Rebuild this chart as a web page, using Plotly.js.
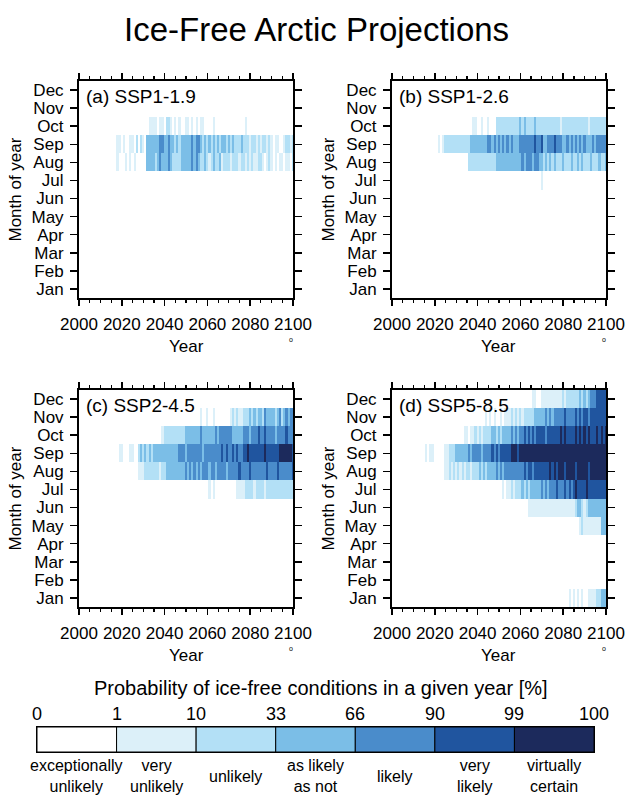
<!DOCTYPE html>
<html><head><meta charset="utf-8">
<script src="https://cdn.plot.ly/plotly-3.0.1.min.js"></script>
<style>html,body{margin:0;padding:0;background:#fff}</style>
</head><body><div id="chart" style="width:631px;height:800px"></div>
<script>
// Years 2015..2100 (one column each); months Jan..Dec
const firstYear = 2015, lastYear = 2100;
const monthLabels = ['Jan','Feb','Mar','Apr','May','Jun','Jul','Aug','Sep','Oct','Nov','Dec'];
const monthNums = [1,2,3,4,5,6,7,8,9,10,11,12];
const xTickVals = [2000,2020,2040,2060,2080,2100];
const xTickText = ['2000','2020','2040','2060','2080','2100'];
// Likelihood category per year (0..6): one string per month (Jan..Dec), one digit per year 2015..2100
// 0 exceptionally unlikely, 1 very unlikely, 2 unlikely, 3 as likely as not, 4 likely, 5 very likely, 6 virtually certain
const ssp119 = ['','','','','','','',
 '0001000101 0100000333 3234333432 2223333343 4322321232 2312221222 1221212112 2101210101 101102',
 '0001101001 1020210333 3334433433 2323333343 4432323232 3233232322 2322212212 1221210110 012212',
 '0000000000 0000000011 1101102210 1010011010 1011000010 0000000000 0001000000 0000000000 000000',
 '',''];
const ssp126 = ['','','','','','',
 '0000000000 0000000000 0000000000 0000000000 0000000000 0000010000 0000000000 0000000000 000000',
 '0000000000 0000000000 0222222222 2222333333 3333334344 4344332323 2322232223 2232322232 223223',
 '0000000101 2222222222 2233333333 4434343434 3433344444 4454453344 4544433434 3434343334 344444',
 '0000000000 0000000000 0001100100 1000222222 2222232322 2232222222 2222122222 2222222122 222222',
 '',''];
const ssp245 = ['','','','','','',
 '0000000000 0000000000 0000000000 0000000000 0000001010 0000000001 1112222122 2212222222 222222',
 '0000000000 0001112222 2221223333 3333343434 3434443443 4444344444 5444454444 4445444454 444445',
 '0000110001 1002323232 3333333333 3344434444 4443444444 4454544545 4455655555 5565555556 666665',
 '0000000000 0000000000 0000122222 2222233333 3343333334 3444444333 3344434445 4454444344 445444',
 '0000000000 0000000000 0000000000 0000000000 0010010010 0000001212 1122232323 3243333234 234344',
 ''];
const ssp585 = [
 '0000000000 0000000000 0000000000 0000000000 0000000000 0000000000 0000000010 1010100111 122333',
 '','','',
 '0000000000 0000000000 0000000000 0000000000 0000000000 0000000000 0000000000 0001211111 111333',
 '0000000000 0000000000 0000000000 0000000000 0000000001 1111111111 1111111111 1233212333 333333',
 '0000000000 0000000000 0000000000 0000000101 1212223232 3333343434 4454445454 5655556555 555555',
 '0000000000 1121212121 2212223232 3333434344 4444444545 5455555556 5656665666 6566666566 666666',
 '0101100000 1122233333 3434444344 4454545555 5666566666 6666666666 6666666666 6666666666 666666',
 '0000000000 0000000001 1011212122 2233232333 3434344545 4545555455 5555656555 5656565655 565656',
 '0000000000 0000000000 0000000001 0101001011 1212121222 2233333434 3444445444 4545455455 555555',
 '0000000000 0000000000 0000000000 0000000000 0000000000 0110011111 1111121222 2223232344 455555'];
const panelLabels = ['(a) SSP1-1.9','(b) SSP1-2.6','(c) SSP2-4.5','(d) SSP5-8.5'];
const catColors = ['#ffffff','#dcf0f9','#b3e0f6','#7bbee7','#4a8ccb','#20559f','#1c2a5c'];
const catBounds = ['0','1','10','33','66','90','99','100'];
const catNames = ['exceptionally<br>unlikely','very<br>unlikely','unlikely','as likely<br>as not','likely','very<br>likely','virtually<br>certain'];

const years = [];
for (let y = firstYear; y <= lastYear; y++) years.push(y);
function parseRows(rows) {
  return rows.map(s => {
    const t = s.replace(/\s/g, '');
    return years.map((_, i) => t.length ? Number(t[i] || 0) : 0);
  });
}
const nCat = catColors.length;
const colorscale = [];
catColors.forEach((c, i) => { colorscale.push([i / nCat, c]); colorscale.push([(i + 1) / nCat, c]); });

const W = 631, H = 800;
const FONT = 'Liberation Sans, Arial, Helvetica, sans-serif';
const px = v => v / W, py = v => 1 - v / H;
const panels = [
  {data: ssp119, x0: 79, x1: 293, y0: 81, y1: 298},
  {data: ssp126, x0: 392, x1: 606, y0: 81, y1: 298},
  {data: ssp245, x0: 79, x1: 293, y0: 390, y1: 607},
  {data: ssp585, x0: 392, x1: 606, y0: 390, y1: 607}
];
const traces = [];
const layout = {
  width: W, height: H, margin: {l: 0, r: 0, t: 0, b: 0},
  paper_bgcolor: '#fff', plot_bgcolor: '#fff', showlegend: false,
  font: {family: FONT, color: '#000'},
  bargap: 0,
  annotations: [], 
};
layout.annotations.push({xref: 'paper', yref: 'paper', x: px(316), y: py(30), text: 'Ice-Free Arctic Projections',
  showarrow: false, font: {size: 33, family: FONT}, xanchor: 'center', yanchor: 'middle'});

panels.forEach((p, k) => {
  const n = k + 1, sx = n === 1 ? '' : String(n);
  traces.push({type: 'heatmap', x: years, y: monthNums, z: parseRows(p.data), xaxis: 'x' + sx, yaxis: 'y' + sx,
    colorscale: colorscale, zmin: -0.5, zmax: 6.5, showscale: false, hoverinfo: 'skip'});
  layout['xaxis' + sx] = {domain: [px(p.x0), px(p.x1)], range: [2000, 2100], anchor: 'y' + sx,
    tickvals: xTickVals, ticktext: xTickText, ticks: 'outside', ticklen: 6, tickwidth: 1.5, tickcolor: '#000',
    minor: {dtick: 5, tick0: 2000, ticks: 'outside', ticklen: 3, tickwidth: 1.2, tickcolor: '#000', showgrid: false},
    showline: true, linewidth: 2, linecolor: '#000', mirror: 'allticks', showgrid: false, zeroline: false,
    tickfont: {size: 17, family: FONT}, ticklabelstandoff: 4, fixedrange: true};
  layout['yaxis' + sx] = {domain: [py(p.y1), py(p.y0)], range: [0.5, 12.5], anchor: 'x' + sx,
    tickvals: monthNums, ticktext: monthLabels, ticks: 'outside', ticklen: 7, tickwidth: 1.5, tickcolor: '#000',
    showline: true, linewidth: 2, linecolor: '#000', mirror: 'allticks', showgrid: false, zeroline: false,
    tickfont: {size: 17, family: FONT}, ticklabelstandoff: 3, fixedrange: true};
  const cx = (p.x0 + p.x1) / 2;
  layout.annotations.push({xref: 'paper', yref: 'paper', x: px(p.x0 + 5), y: py(p.y0 + 16), text: panelLabels[k],
    showarrow: false, xanchor: 'left', yanchor: 'middle', font: {size: 19, family: FONT}});
  layout.annotations.push({xref: 'paper', yref: 'paper', x: px(cx), y: py(p.y1 + 48), text: 'Year',
    showarrow: false, xanchor: 'center', yanchor: 'middle', font: {size: 17, family: FONT}});
  layout.annotations.push({xref: 'paper', yref: 'paper', x: px(p.x0 - 64), y: py((p.y0 + p.y1) / 2), text: 'Month of year',
    showarrow: false, xanchor: 'center', yanchor: 'middle', textangle: -90, font: {size: 17, family: FONT}});
  layout.annotations.push({xref: 'paper', yref: 'paper', x: px(p.x1 - 2), y: py(p.y1 + 41), text: 'o',
    showarrow: false, xanchor: 'center', yanchor: 'middle', font: {size: 7, family: FONT}});
});

// Legend colour bar
const catIdx = catColors.map((_, i) => i);
traces.push({type: 'bar', x: catIdx, y: catIdx.map(() => 1), width: 1, xaxis: 'x5', yaxis: 'y5',
  marker: {color: catColors, line: {color: '#000', width: 1}}, hoverinfo: 'skip'});
layout.xaxis5 = {domain: [px(37), px(594)], range: [-0.5, 6.5], anchor: 'y5', showline: true, mirror: true,
  linecolor: '#000', linewidth: 1.2, showticklabels: false, ticks: '', showgrid: false, zeroline: false, fixedrange: true};
layout.yaxis5 = {domain: [py(752), py(727)], range: [0, 1], anchor: 'x5', showline: true, mirror: true,
  linecolor: '#000', linewidth: 1.2, showticklabels: false, ticks: '', showgrid: false, zeroline: false, fixedrange: true};
layout.annotations.push({xref: 'paper', yref: 'paper', x: px(321), y: py(688),
  text: 'Probability of ice-free conditions in a given year [%]', showarrow: false,
  xanchor: 'center', yanchor: 'middle', font: {size: 20, family: FONT}});
catBounds.forEach((b, i) => {
  layout.annotations.push({xref: 'x5', yref: 'paper', x: i - 0.5, y: py(714), text: b, showarrow: false,
    xanchor: 'center', yanchor: 'middle', font: {size: 18, family: FONT}});
});
catNames.forEach((t, i) => {
  layout.annotations.push({xref: 'x5', yref: 'paper', x: i, y: py(776), text: t, showarrow: false,
    xanchor: 'center', yanchor: 'middle', font: {size: 16, family: FONT}});
});

Plotly.newPlot('chart', traces, layout, {displayModeBar: false, staticPlot: true});
</script></body></html>
